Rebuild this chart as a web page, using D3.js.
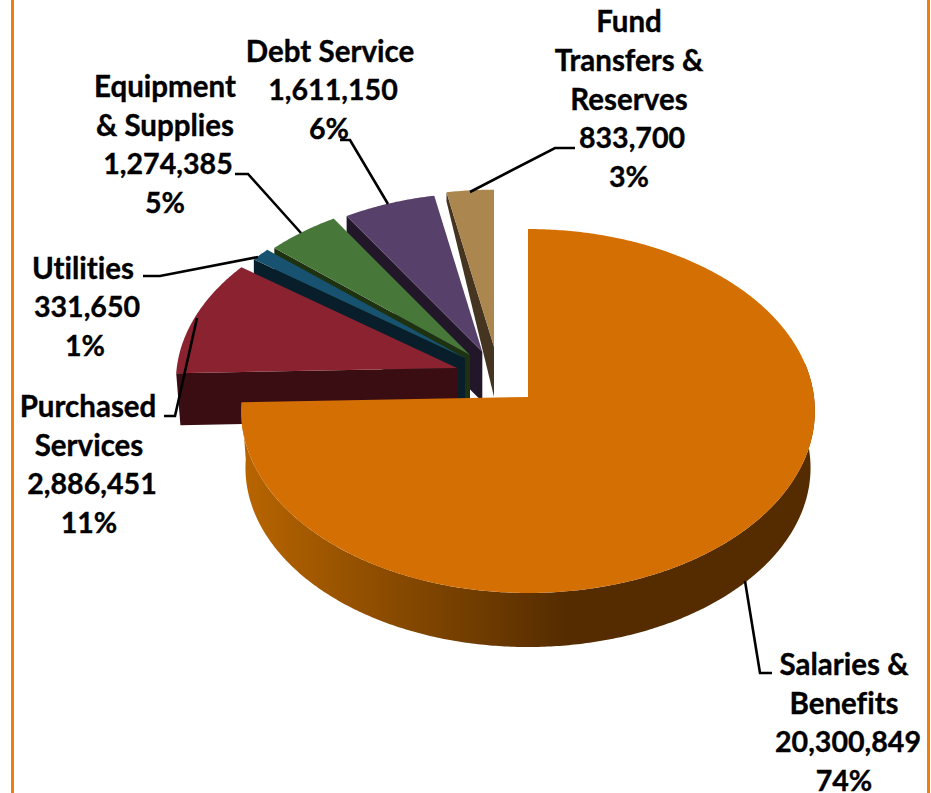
<!DOCTYPE html>
<html>
<head>
<meta charset="utf-8">
<script src="https://cdn.jsdelivr.net/npm/d3@7"></script>
<style>
	html, body { margin: 0; padding: 0; background: #fff; overflow: hidden; }
	text { font-family: Lato, "Open Sans", sans-serif; font-weight: 700; font-size: 29.5px; fill: #000; stroke: #000; stroke-width: 0.35px; text-anchor: middle; font-variant-ligatures: none; }
	text.num { font-size: 28.6px; }
</style>
</head>
<body>
<script>
// budget figures
var categories = ["Salaries & Benefits", "Purchased Services", "Utilities", "Equipment & Supplies", "Debt Service", "Fund Transfers & Reserves"];
var values = [20300849, 2886451, 331650, 1274385, 1611150, 833700];
var percents = ["74%", "11%", "1%", "5%", "6%", "3%"];
var nameLines = [["Salaries &", "Benefits"], ["Purchased", "Services"], ["Utilities"], ["Equipment", "& Supplies"], ["Debt Service"], ["Fund", "Transfers &", "Reserves"]];

// slice colours: top face, cut wall
var faceColors = ["#d46f04", "#8a2230", "#175370", "#477839", "#574069", "#ab864f"];
var wallColors = ["#552c00", "#3a0d12", "#081f2b", "#1e3212", "#211729", "#453420"];

// how each slice sits on the page (exploded apex, radius scale, wall depth)
var apexX = [528, 457, 465, 470, 482.3, 494];
var apexY = [397, 368, 358, 355, 351.7, 346.7];
var radiusScale = [1, 0.98, 0.96, 0.95, 0.945, 0.935];
var wallApex = [57, 52, 50, 50, 50, 50];
var wallRim = [57, 52, 50, 50, 50, 9];

// label anchors: x of each text line and the y of the first line centre
var labelX = [[844, 844, 848, 844], [88, 89, 92, 89], [83, 87, 85], [165, 165, 168, 165], [330, 333, 329], [629, 629, 629, 632, 629]];
var labelY = [664, 406, 268, 86, 51, 21];
var lineGap = 39;

// leader lines
var leaders = [
	[[745, 581], [760, 673], [772, 673]],
	[[164, 416], [175, 416], [197, 318]],
	[[143, 276], [160, 276], [258, 257]],
	[[235, 174], [248, 174], [301, 233]],
	[[340, 140], [350, 140], [388, 204]],
	[[470, 192], [555, 148], [575, 148]]
];

var width = 931, height = 793;
var rx = 286, ry = 180.9, persp = 0.0769, bottomScale = 0.985;

var svg = d3.select("body").append("svg")
	.attr("width", width)
	.attr("height", height)
	.style("display", "block");

// gradient on the front wall of the big slice
var grad = svg.append("defs").append("linearGradient")
	.attr("id", "frontWall")
	.attr("gradientUnits", "userSpaceOnUse")
	.attr("x1", 243 - apexX[0]).attr("x2", 568 - apexX[0])
	.attr("y1", 0).attr("y2", 0);
grad.append("stop").attr("offset", "0%").attr("stop-color", "#b86500");
grad.append("stop").attr("offset", "45%").attr("stop-color", "#8a4b00");
grad.append("stop").attr("offset", "100%").attr("stop-color", "#552c00");

// orange frame, left and right only
svg.append("rect").attr("x", 11).attr("y", 0).attr("width", 3).attr("height", height).attr("fill", "#f07f09");
svg.append("rect").attr("x", 927).attr("y", 0).attr("width", 3).attr("height", height).attr("fill", "#f07f09");

var pie = d3.pie().sort(null).startAngle(0).endAngle(2 * Math.PI);
var arcs = pie(values);
var line = d3.line();

// offset of a rim point from the apex, tilted with a bit of perspective
function rim(angle, scale) {
	var u = Math.sin(angle), v = Math.cos(angle);
	var w = 1 + persp * v;
	return [rx * u / w * scale, -ry * v / w * scale];
}

function arcAngles(a0, a1) {
	var n = Math.max(2, Math.ceil((a1 - a0) / 0.01));
	return d3.range(n + 1).map(function (i) { return a0 + (a1 - a0) * i / n; });
}

// paint back to front, the big slice goes last
d3.range(arcs.length - 1, -1, -1).forEach(function (i) {
	var d = arcs[i];
	var g = svg.append("g").attr("transform", "translate(" + apexX[i] + "," + apexY[i] + ")");
	var s = radiusScale[i];

	// cut wall on the starting edge
	if (i > 0) {
		var p = rim(d.startAngle, s);
		var inset = i === 1 ? bottomScale : 1;
		g.append("path")
			.attr("d", line([[0, 0], p, [p[0] * inset, p[1] + wallRim[i]], [0, wallApex[i]]]) + "Z")
			.attr("fill", wallColors[i]);
	}

	// curved wall of the big slice
	if (i === 0) {
		var angles = arcAngles(Math.PI * 0.44, d.endAngle);
		var topEdge = angles.map(function (a) { return rim(a, s); });
		var lowEdge = angles.map(function (a) {
			var q = rim(a, s * bottomScale);
			return [q[0], q[1] + wallRim[i]];
		}).reverse();
		g.append("path")
			.attr("d", line(topEdge.concat(lowEdge)) + "Z")
			.attr("fill", "url(#frontWall)");
	}

	// top face
	var pts = arcAngles(d.startAngle, d.endAngle).map(function (a) { return rim(a, s); });
	g.append("path")
		.attr("d", line([[0, 0]].concat(pts)) + "Z")
		.attr("fill", faceColors[i]);
});

// leaders on top of the slices
svg.selectAll("path.leader")
	.data(leaders)
	.enter().append("path")
	.attr("class", "leader")
	.attr("d", line)
	.attr("fill", "none")
	.attr("stroke", "#000")
	.attr("stroke-width", 2.6);

// labels
var fmt = d3.format(",");
categories.forEach(function (c, i) {
	var lines = nameLines[i].concat([fmt(values[i]), percents[i]]);
	svg.selectAll("text.l" + i)
		.data(lines)
		.enter().append("text")
		.attr("class", function (t, j) { return "l" + i + (j >= nameLines[i].length ? " num" : ""); })
		.attr("x", function (t, j) { return labelX[i][j]; })
		.attr("y", function (t, j) { return labelY[i] + j * lineGap; })
		.attr("dy", "0.36em")
		.text(function (t) { return t; });
});
</script>
</body>
</html>
